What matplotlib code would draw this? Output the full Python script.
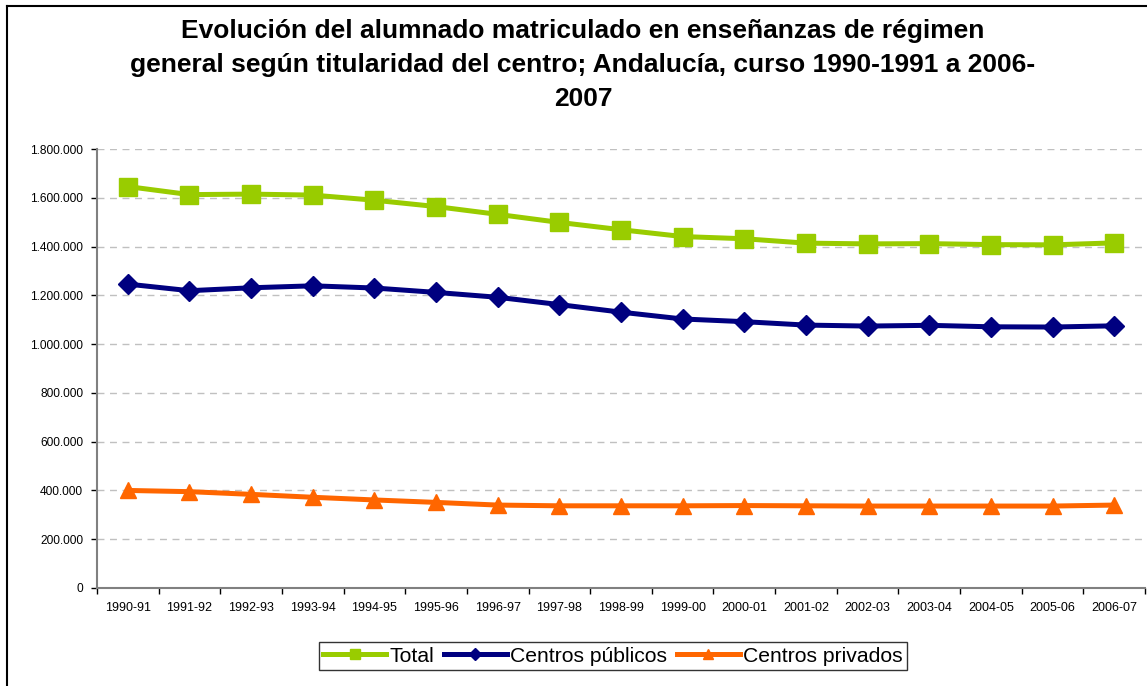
import matplotlib
matplotlib.use("Agg")
import matplotlib.pyplot as plt
from matplotlib.lines import Line2D
from matplotlib.ticker import FuncFormatter, FixedLocator

plt.rcParams['font.family'] = ['Liberation Sans', 'DejaVu Sans']

cursos = ["1990-91", "1991-92", "1992-93", "1993-94", "1994-95", "1995-96",
          "1996-97", "1997-98", "1998-99", "1999-00", "2000-01", "2001-02",
          "2002-03", "2003-04", "2004-05", "2005-06", "2006-07"]
total = [1646000, 1613000, 1615000, 1611000, 1590000, 1564000, 1532000,
         1499000, 1469000, 1441000, 1432000, 1414000, 1411000, 1412000,
         1408000, 1407000, 1415000]
publicos = [1246000, 1219000, 1231000, 1239000, 1230000, 1212000, 1192000,
            1162000, 1131000, 1103000, 1092000, 1078000, 1074000, 1077000,
            1071000, 1070000, 1075000]
privados = [400000, 395000, 384000, 372000, 361000, 351000, 340000,
            337000, 337000, 337000, 338000, 337000, 336000, 336000,
            336000, 336000, 340000]

W, H = 1147, 686
fig = plt.figure(figsize=(W / 100, H / 100), dpi=100)
ax = fig.add_axes([97 / W, 1 - 588 / H, (1145 - 97) / W, (588 - 149) / H])

x = list(range(len(cursos)))
l1, = ax.plot(x, total, color="#99CC00", lw=3.6, marker="s", ms=13,
              mec="#99CC00", label="Total", zorder=3)
l2, = ax.plot(x, publicos, color="#000080", lw=3.6, marker="D", ms=10,
              mec="#000080", label="Centros públicos", zorder=3)
l3, = ax.plot(x, privados, color="#FF6600", lw=3.6, marker="^", ms=11,
              mec="#FF6600", label="Centros privados", zorder=3)

ax.set_xlim(-0.5, len(cursos) - 0.5)
ax.set_ylim(0, 1800000)
ax.set_yticks(range(0, 1800001, 200000))
ax.yaxis.set_major_formatter(FuncFormatter(lambda v, p: f"{int(v):,}".replace(",", ".")))
ax.xaxis.set_major_locator(FixedLocator([i - 0.5 for i in range(len(cursos) + 1)]))
ax.xaxis.set_major_formatter(FuncFormatter(lambda v, p: ""))
ax.xaxis.set_minor_locator(FixedLocator(x))
ax.set_xticklabels(cursos, minor=True)
ax.tick_params(axis="x", which="minor", length=0, labelsize=9, pad=10)
ax.tick_params(axis="x", which="major", length=4, width=1, color="#000000", direction="out")
ax.tick_params(axis="y", length=4, width=1, labelsize=8.6, pad=6)

for s in ["top", "right"]:
    ax.spines[s].set_visible(False)
for s in ["left", "bottom"]:
    ax.spines[s].set_color("#808080")
    ax.spines[s].set_linewidth(1.5)

ax.yaxis.grid(True, linestyle=(0, (5, 4)), color="#C0C0C0", lw=1)
ax.set_axisbelow(True)

fig.text(583 / W, 1 - 19 / H,
         "Evolución del alumnado matriculado en enseñanzas de régimen\n"
         "general según titularidad del centro; Andalucía, curso 1990-1991 a 2006-\n"
         "2007",
         ha="center", va="top", fontsize=19, fontweight="bold",
         linespacing=1.52, transform=fig.transFigure)

leg = fig.legend(handles=[l1, l2, l3], loc="center", bbox_to_anchor=(613 / W, 1 - 656 / H),
                 ncol=3, frameon=True, fancybox=False, fontsize=15.2, handlelength=3.0,
                 handletextpad=0.15, columnspacing=0.45, markerscale=0.6,
                 borderpad=0.2, edgecolor="#000000", borderaxespad=0)
leg.get_frame().set_linewidth(1)

fig.add_artist(Line2D([7 / W, 7 / W], [0, 1 - 6 / H], transform=fig.transFigure,
                      color="black", lw=1.5))
fig.add_artist(Line2D([7 / W, 1], [1 - 6 / H, 1 - 6 / H], transform=fig.transFigure,
                      color="black", lw=1.5))

fig.savefig("out.png", dpi=100)
